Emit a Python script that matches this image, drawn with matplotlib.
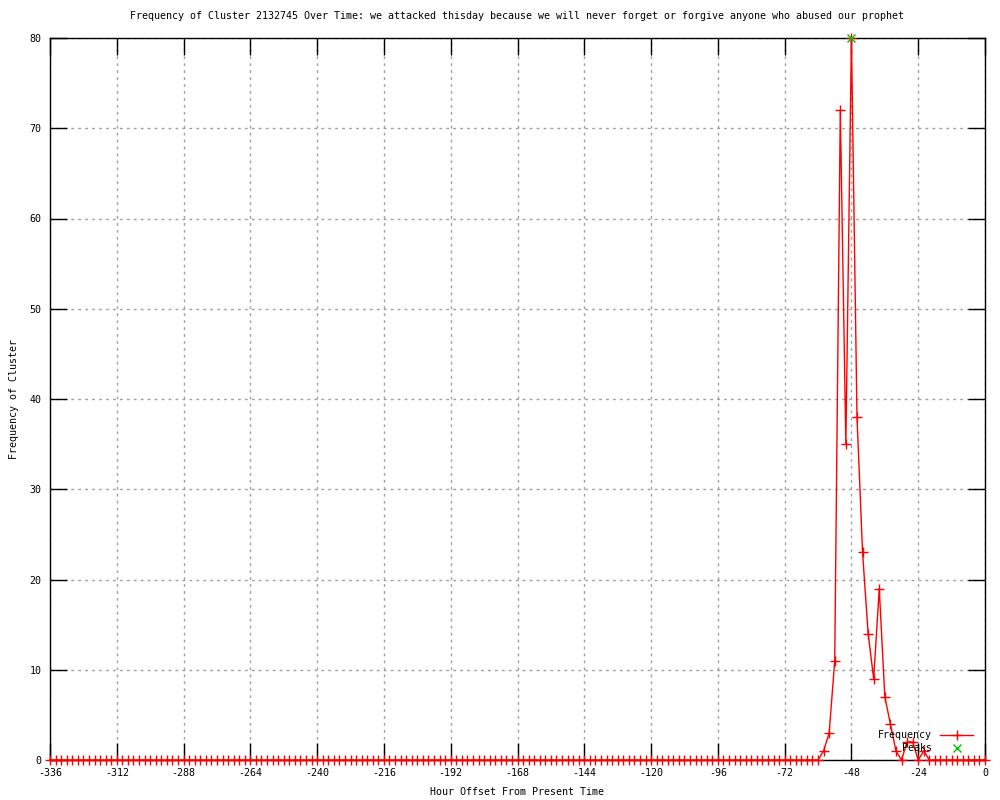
import matplotlib
matplotlib.use('Agg')
import matplotlib.pyplot as plt
import numpy as np

# data (2-hour bins)
hours = list(range(-336, 1, 2))
freq = [0] * 139 + [1, 3, 11, 72, 35, 80, 38, 23, 14, 9, 19, 7, 4, 1, 0, 2, 2, 0, 1] + [0] * 11
peak_hours = [-48]
peak_freq = [80]

x_ticks = list(range(-336, 1, 24))
y_ticks = list(range(0, 81, 10))

title = ('Frequency of Cluster 2132745 Over Time: we attacked thisday because '
         'we will never forget or forgive anyone who abused our prophet')

plt.rcParams['font.family'] = 'DejaVu Sans Mono'
plt.rcParams['font.size'] = 7.2
plt.rcParams['axes.unicode_minus'] = False

fig = plt.figure(figsize=(10, 8), dpi=100)
ax = fig.add_axes([0.05, 0.05, 0.935, 0.9025])

ax.plot(hours, freq, color='red', linewidth=1, marker='+', markersize=7,
        markeredgewidth=1, label='Frequency', clip_on=False, zorder=4)
ax.plot(peak_hours, peak_freq, linestyle='none', color='#00c000', marker='x',
        markersize=6, markeredgewidth=1, label='Peaks', clip_on=False, zorder=5)

ax.set_xlim(-336, 0)
ax.set_ylim(0, 80)
ax.set_xticks(x_ticks)
ax.set_yticks(y_ticks)
ax.tick_params(direction='in', length=12, width=1, top=True, right=True,
               labeltop=False, labelright=False, pad=6)
ax.grid(True, color='#a0a0a0', linestyle=(0, (2, 3)), linewidth=1)
for s in ax.spines.values():
    s.set_linewidth(1)

ax.set_title(title, fontsize=7.2, pad=14)
ax.set_xlabel('Hour Offset From Present Time', labelpad=6)
ax.set_ylabel('Frequency of Cluster', labelpad=8)

ax.legend(loc='lower right', bbox_to_anchor=(0.995, 0.0), frameon=False,
          markerfirst=False, handlelength=3.3, handletextpad=0.8,
          labelspacing=0.3, borderpad=0.2, fontsize=7.2)

fig.savefig('out.png', dpi=100)
